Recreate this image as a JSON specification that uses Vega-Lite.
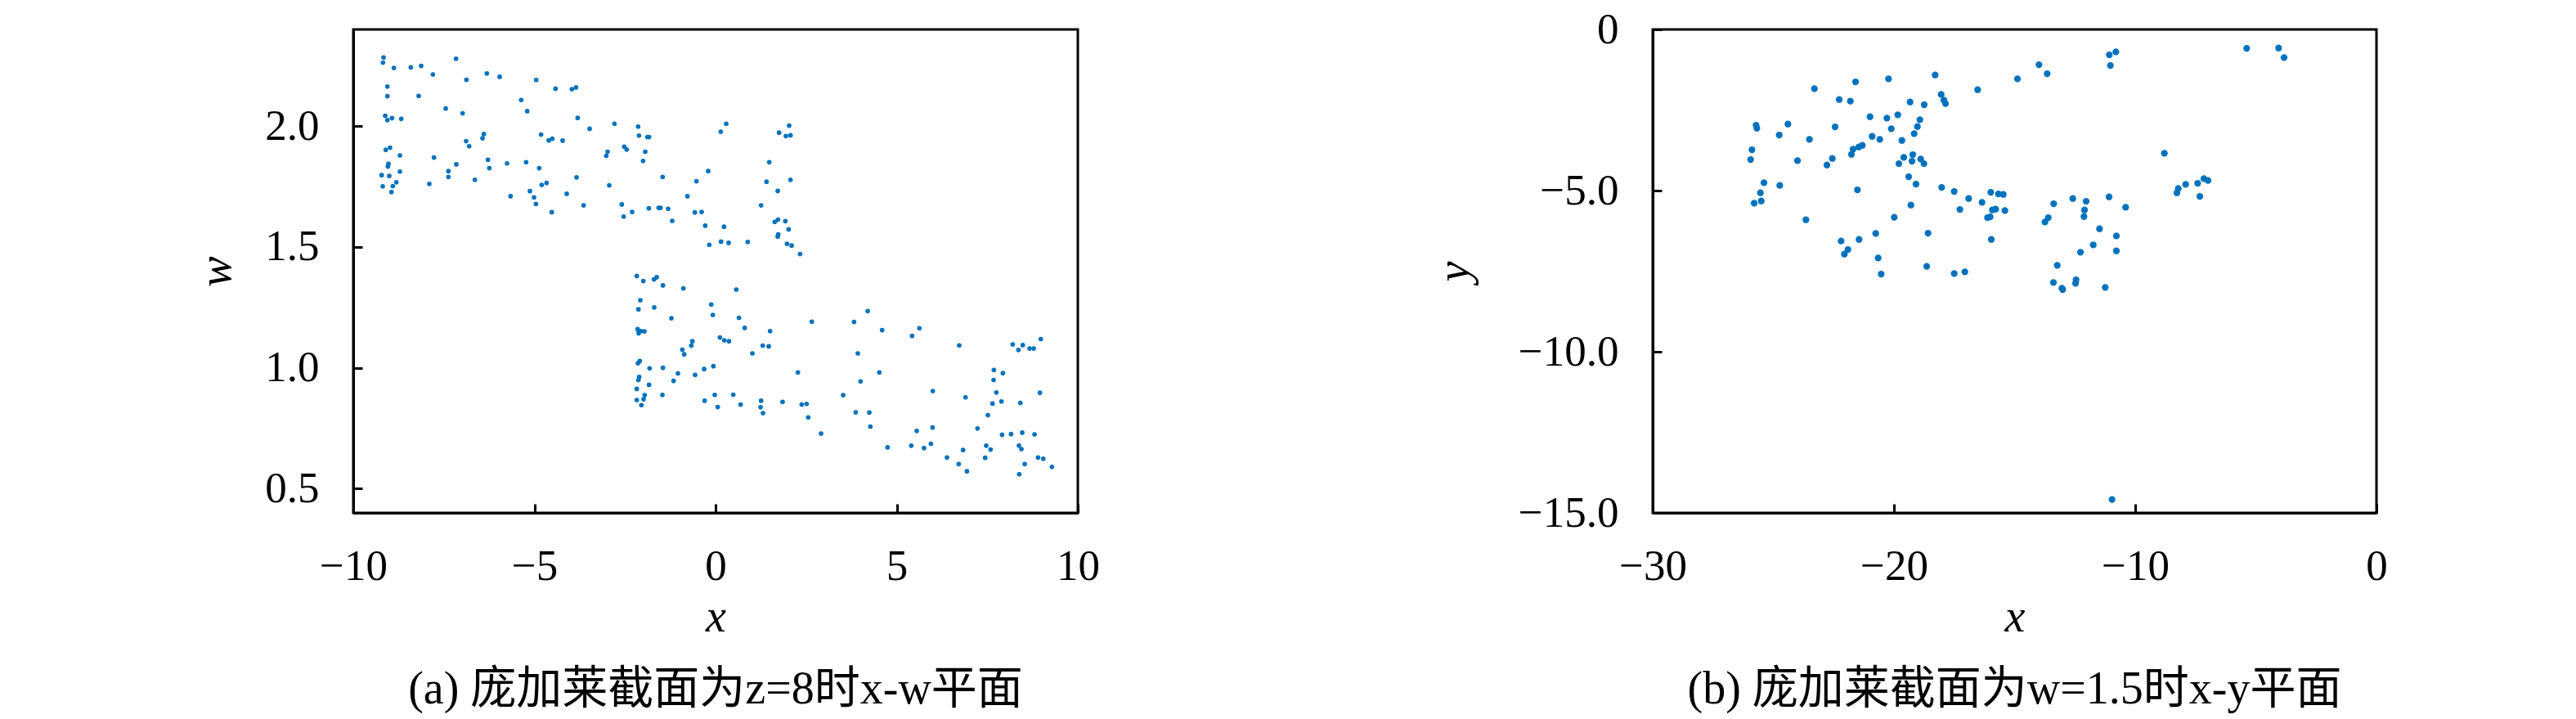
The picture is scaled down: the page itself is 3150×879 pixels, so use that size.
{
  "$schema": "https://vega.github.io/schema/vega-lite/v6.json",
  "background": "white",
  "padding": {"left": 235, "top": 8, "right": 0, "bottom": 0},
  "bounds": "flush",
  "spacing": 703,
  "config": {
    "view": {"stroke": "black", "strokeWidth": 3},
    "axis": {
      "domainColor": "black", "domainWidth": 3,
      "tickColor": "black", "tickWidth": 3, "tickSize": -11,
      "grid": false,
      "labelFont": "Liberation Serif", "labelFontSize": 53, "labelColor": "black",
      "labelFlush": false, "labelOverlap": false,
      "titleFont": "Liberation Serif", "titleFontSize": 56, "titleFontStyle": "italic",
      "titleFontWeight": "normal", "titleColor": "black"
    },
    "axisX": {"labelPadding": 50, "titlePadding": 8},
    "axisY": {"labelPadding": 53},
    "title": {"font": "Liberation Serif, Noto Sans CJK SC", "fontSize": 56, "fontWeight": "normal", "color": "black"}
  },
  "datasets": {
    "xw": [
      {"x":-9.165,"w":2.284},{"x":-9.180,"w":2.263},{"x":-8.879,"w":2.241},{"x":-8.412,"w":2.243},{"x":-8.126,"w":2.249},
      {"x":-7.803,"w":2.214},{"x":-7.163,"w":2.279},{"x":-6.877,"w":2.192},{"x":-6.313,"w":2.218},{"x":-5.959,"w":2.204},
      {"x":-4.951,"w":2.191},{"x":-4.417,"w":2.155},{"x":-3.965,"w":2.153},{"x":-3.852,"w":2.160},{"x":-9.059,"w":2.164},
      {"x":-9.059,"w":2.124},{"x":-8.194,"w":2.125},{"x":-7.449,"w":2.073},{"x":-6.983,"w":2.053},{"x":-5.365,"w":2.108},
      {"x":-5.199,"w":2.062},{"x":-3.807,"w":2.034},{"x":-9.119,"w":2.043},{"x":-9.059,"w":2.025},{"x":-8.931,"w":2.033},
      {"x":-8.676,"w":2.030},{"x":-3.476,"w":1.989},{"x":-2.791,"w":2.010},{"x":-2.137,"w":1.998},{"x":-2.114,"w":1.961},
      {"x":-1.881,"w":1.955},{"x":-1.836,"w":1.955},{"x":0.143,"w":1.977},{"x":-9.104,"w":1.902},{"x":-8.984,"w":1.911},
      {"x":-8.713,"w":1.879},{"x":-7.773,"w":1.870},{"x":-6.885,"w":1.938},{"x":-6.802,"w":1.917},{"x":-6.433,"w":1.950},
      {"x":-6.396,"w":1.967},{"x":-6.283,"w":1.861},{"x":-6.245,"w":1.826},{"x":-7.156,"w":1.842},{"x":-7.374,"w":1.814},
      {"x":-7.374,"w":1.790},{"x":-7.901,"w":1.761},{"x":-9.029,"w":1.844},{"x":-9.044,"w":1.833},{"x":-9.217,"w":1.797},
      {"x":-9.007,"w":1.794},{"x":-8.713,"w":1.812},{"x":-9.187,"w":1.751},{"x":-8.909,"w":1.752},{"x":-8.811,"w":1.768},
      {"x":-8.946,"w":1.727},{"x":-6.644,"w":1.778},{"x":-5.756,"w":1.846},{"x":-5.229,"w":1.851},{"x":-4.868,"w":1.826},
      {"x":-4.816,"w":1.965},{"x":-4.605,"w":1.941},{"x":-4.507,"w":1.948},{"x":-4.221,"w":1.940},{"x":-5.658,"w":1.710},
      {"x":-5.124,"w":1.731},{"x":-5.011,"w":1.705},{"x":-4.958,"w":1.678},{"x":-4.800,"w":1.757},{"x":-4.665,"w":1.765},
      {"x":-4.522,"w":1.644},{"x":-4.108,"w":1.720},{"x":-3.837,"w":1.788},{"x":-3.642,"w":1.672},{"x":-3.017,"w":1.877},
      {"x":-2.980,"w":1.894},{"x":-2.934,"w":1.755},{"x":-2.521,"w":1.915},{"x":-2.453,"w":1.903},{"x":-1.941,"w":1.894},
      {"x":-2.001,"w":1.856},{"x":-2.588,"w":1.676},{"x":-2.536,"w":1.626},{"x":-2.302,"w":1.645},{"x":-1.843,"w":1.660},
      {"x":-1.572,"w":1.662},{"x":-1.520,"w":1.662},{"x":-1.309,"w":1.658},{"x":-1.196,"w":1.608},{"x":-1.460,"w":1.790},
      {"x":-0.775,"w":1.710},{"x":-0.572,"w":1.643},{"x":-0.384,"w":1.645},{"x":-0.527,"w":1.772},{"x":-0.203,"w":1.814},
      {"x":-0.286,"w":1.588},{"x":-0.173,"w":1.509},{"x":0.151,"w":1.522},{"x":0.233,"w":1.584},
      {"x":0.294,"w":2.010},{"x":1.753,"w":1.973},{"x":2.032,"w":2.002},{"x":1.941,"w":1.959},{"x":2.069,"w":1.962},
      {"x":1.482,"w":1.851},{"x":1.407,"w":1.770},{"x":2.069,"w":1.778},{"x":1.716,"w":1.732},{"x":1.257,"w":1.672},
      {"x":1.633,"w":1.604},{"x":1.723,"w":1.613},{"x":1.926,"w":1.607},{"x":2.017,"w":1.573},{"x":1.731,"w":1.552},
      {"x":1.716,"w":1.543},{"x":0.361,"w":1.517},{"x":0.888,"w":1.521},{"x":1.972,"w":1.513},{"x":2.100,"w":1.506},
      {"x":2.333,"w":1.471},
      {"x":-2.175,"w":1.380},{"x":-1.994,"w":1.359},{"x":-1.700,"w":1.366},{"x":-1.625,"w":1.375},{"x":-1.452,"w":1.341},
      {"x":-0.888,"w":1.329},{"x":-2.077,"w":1.280},{"x":-2.129,"w":1.242},{"x":-1.693,"w":1.250},{"x":-1.219,"w":1.205},
      {"x":-0.120,"w":1.262},{"x":-0.075,"w":1.219},{"x":-2.152,"w":1.160},{"x":-2.122,"w":1.143},{"x":-2.062,"w":1.152},
      {"x":-1.964,"w":1.151},{"x":0.121,"w":1.126},{"x":-0.640,"w":1.110},{"x":-0.670,"w":1.092},{"x":-0.918,"w":1.075},
      {"x":-0.865,"w":1.056},{"x":-2.144,"w":1.019},{"x":-2.092,"w":1.028},{"x":-1.821,"w":0.998},{"x":-1.452,"w":1.000},
      {"x":-1.038,"w":0.977},{"x":-1.159,"w":0.946},{"x":-0.564,"w":0.971},{"x":-0.316,"w":0.995},{"x":-0.060,"w":1.007},
      {"x":-2.107,"w":0.962},{"x":-2.129,"w":0.950},{"x":-1.836,"w":0.930},{"x":-2.175,"w":0.913},{"x":-1.956,"w":0.887},
      {"x":-1.986,"w":0.870},{"x":-2.175,"w":0.867},{"x":-2.047,"w":0.846},{"x":-1.467,"w":0.888},{"x":-0.301,"w":0.864},
      {"x":-0.022,"w":0.888},{"x":0.060,"w":0.838},
      {"x":0.572,"w":1.324},{"x":0.647,"w":1.207},{"x":0.805,"w":1.165},{"x":0.241,"w":1.114},{"x":0.369,"w":1.110},
      {"x":1.016,"w":1.060},{"x":1.302,"w":1.092},{"x":1.467,"w":1.089},{"x":1.505,"w":1.152},{"x":2.656,"w":1.191},
      {"x":2.273,"w":0.981},{"x":0.489,"w":0.889},{"x":0.692,"w":0.848},{"x":1.257,"w":0.864},{"x":1.242,"w":0.837},
      {"x":1.309,"w":0.813},{"x":1.851,"w":0.859},{"x":2.378,"w":0.848},{"x":2.513,"w":0.851},{"x":2.558,"w":0.795},
      {"x":2.912,"w":0.728},{"x":3.522,"w":0.887},{"x":3.823,"w":1.190},{"x":4.199,"w":1.235},{"x":4.598,"w":1.156},
      {"x":3.928,"w":1.060},{"x":4.003,"w":0.944},{"x":4.522,"w":0.981},{"x":3.868,"w":0.816},{"x":4.244,"w":0.815},
      {"x":4.274,"w":0.757},{"x":4.748,"w":0.671},{"x":5.425,"w":1.132},{"x":5.628,"w":1.164},{"x":6.727,"w":1.093},
      {"x":5.997,"w":0.904},{"x":6.900,"w":0.878},{"x":5.553,"w":0.739},{"x":5.990,"w":0.753},{"x":5.403,"w":0.678},
      {"x":5.756,"w":0.668},{"x":5.945,"w":0.686},{"x":6.388,"w":0.629},{"x":6.712,"w":0.602},{"x":6.832,"w":0.660},
      {"x":6.938,"w":0.572},{"x":7.231,"w":0.749},{"x":7.442,"w":0.628},{"x":7.472,"w":0.678},{"x":7.592,"w":0.662},
      {"x":7.517,"w":0.804},{"x":7.645,"w":0.852},{"x":7.750,"w":0.898},{"x":7.675,"w":0.950},{"x":7.683,"w":0.991},
      {"x":7.931,"w":0.978},{"x":7.893,"w":0.861},{"x":7.908,"w":0.723},{"x":8.157,"w":0.726},{"x":8.413,"w":0.855},
      {"x":8.465,"w":0.732},{"x":8.375,"w":0.678},{"x":8.443,"w":0.664},{"x":8.533,"w":0.602},{"x":8.382,"w":0.560},
      {"x":8.804,"w":0.725},{"x":8.902,"w":0.629},{"x":9.045,"w":0.624},{"x":9.285,"w":0.590},{"x":8.954,"w":0.897},
      {"x":8.202,"w":1.097},{"x":8.360,"w":1.074},{"x":8.480,"w":1.094},{"x":8.668,"w":1.080},{"x":8.781,"w":1.080},
      {"x":8.977,"w":1.119}
    ],
    "xy": [
      {"x":-23.299,"y":-1.837},{"x":-21.593,"y":-1.626},{"x":-20.226,"y":-1.533},{"x":-18.294,"y":-1.414},{"x":-16.531,"y":-1.871},
      {"x":-22.271,"y":-2.176},{"x":-21.808,"y":-2.226},{"x":-19.333,"y":-2.252},{"x":-18.746,"y":-2.336},{"x":-18.045,"y":-2.015},
      {"x":-17.932,"y":-2.192},{"x":-17.864,"y":-2.302},{"x":-20.994,"y":-2.709},{"x":-20.294,"y":-2.751},{"x":-19.842,"y":-2.649},
      {"x":-18.926,"y":-2.802},{"x":-19.028,"y":-3.013},{"x":-19.164,"y":-3.233},{"x":-20.113,"y":-3.081},{"x":-19.672,"y":-3.445},
      {"x":-20.904,"y":-3.318},{"x":-20.588,"y":-3.411},{"x":-22.441,"y":-3.022},{"x":-24.395,"y":-2.937},{"x":-25.717,"y":-2.971},
      {"x":-25.684,"y":-3.064},{"x":-24.757,"y":-3.275},{"x":-23.503,"y":-3.411},{"x":-25.887,"y":-3.732},{"x":-25.943,"y":-4.037},
      {"x":-24.000,"y":-4.071},{"x":-22.554,"y":-4.003},{"x":-22.779,"y":-4.206},{"x":-21.763,"y":-3.876},{"x":-21.695,"y":-3.715},
      {"x":-21.458,"y":-3.648},{"x":-21.311,"y":-3.597},{"x":-19.797,"y":-4.164},{"x":-19.593,"y":-3.969},{"x":-19.254,"y":-4.088},
      {"x":-19.220,"y":-3.884},{"x":-18.893,"y":-4.020},{"x":-18.757,"y":-4.164},{"x":-19.390,"y":-4.570},{"x":-19.085,"y":-4.798},
      {"x":-25.390,"y":-4.756},{"x":-24.734,"y":-4.840},{"x":-25.537,"y":-5.069},{"x":-25.797,"y":-5.390},{"x":-25.503,"y":-5.323},
      {"x":-21.514,"y":-4.976},{"x":-23.650,"y":-5.907},{"x":-19.299,"y":-5.450},{"x":-19.989,"y":-5.830},{"x":-18.022,"y":-4.900},
      {"x":-17.503,"y":-5.027},{"x":-16.904,"y":-5.247},{"x":-17.266,"y":-5.585},{"x":-16.350,"y":-5.365},{"x":-15.988,"y":-5.052},
      {"x":-15.672,"y":-5.103},{"x":-15.469,"y":-5.120},{"x":-15.921,"y":-5.602},{"x":-15.785,"y":-5.577},{"x":-15.401,"y":-5.619},
      {"x":-16.124,"y":-5.839},{"x":-16.011,"y":-5.814},{"x":-15.966,"y":-6.516},{"x":-20.757,"y":-6.329},{"x":-18.588,"y":-6.321},
      {"x":-22.192,"y":-6.566},{"x":-21.446,"y":-6.516},{"x":-21.909,"y":-6.829},{"x":-22.056,"y":-6.973},{"x":-20.655,"y":-7.091},
      {"x":-18.644,"y":-7.353},{"x":-20.531,"y":-7.590},{"x":-17.503,"y":-7.573},{"x":-17.062,"y":-7.522},
      {"x":-5.379,"y":-0.585},{"x":-4.056,"y":-0.577},{"x":-3.831,"y":-0.873},{"x":-10.802,"y":-0.695},{"x":-11.073,"y":-0.788},
      {"x":-11.028,"y":-1.118},{"x":-13.989,"y":-1.093},{"x":-13.650,"y":-1.372},{"x":-14.881,"y":-1.533},{"x":-8.791,"y":-3.842},
      {"x":-7.910,"y":-4.807},{"x":-8.215,"y":-4.934},{"x":-8.271,"y":-5.069},{"x":-7.412,"y":-4.773},{"x":-7.153,"y":-4.629},
      {"x":-6.983,"y":-4.688},{"x":-7.322,"y":-5.179},{"x":-13.379,"y":-5.407},{"x":-12.588,"y":-5.247},{"x":-12.034,"y":-5.331},
      {"x":-12.102,"y":-5.602},{"x":-12.124,"y":-5.805},{"x":-11.085,"y":-5.196},{"x":-10.396,"y":-5.517},{"x":-13.605,"y":-5.839},
      {"x":-13.740,"y":-5.974},{"x":-11.480,"y":-6.186},{"x":-10.780,"y":-6.406},{"x":-11.740,"y":-6.685},{"x":-12.271,"y":-6.913},
      {"x":-10.780,"y":-6.871},{"x":-13.232,"y":-7.319},
      {"x":-13.390,"y":-7.852},{"x":-13.040,"y":-8.030},{"x":-13.006,"y":-8.072},{"x":-12.452,"y":-7.767},{"x":-12.475,"y":-7.877},
      {"x":-11.243,"y":-8.004},{"x":-10.961,"y":-14.586}
    ]
  },
  "hconcat": [
    {
      "width": 886, "height": 591,
      "data": {"name": "xw"},
      "title": {"text": "(a) 庞加莱截面为z=8时x-w平面", "orient": "bottom", "anchor": "middle", "frame": "group", "offset": 34},
      "mark": {"type": "point", "filled": true, "size": 32, "color": "#0072BD", "opacity": 1},
      "encoding": {
        "x": {"field": "x", "type": "quantitative", "scale": {"domain": [-10, 10], "nice": false, "zero": false},
              "axis": {"title": "x", "values": [-10, -5, 0, 5, 10], "format": "d"}},
        "y": {"field": "w", "type": "quantitative", "scale": {"domain": [0.4, 2.4], "nice": false, "zero": false},
              "axis": {"title": "w", "values": [0.5, 1.0, 1.5, 2.0], "format": ".1f", "titlePadding": 30}}
      }
    },
    {
      "width": 885, "height": 591,
      "data": {"name": "xy"},
      "title": {"text": "(b) 庞加莱截面为w=1.5时x-y平面", "orient": "bottom", "anchor": "middle", "frame": "group", "offset": 34},
      "mark": {"type": "point", "filled": true, "size": 68, "color": "#0072BD", "opacity": 1},
      "encoding": {
        "x": {"field": "x", "type": "quantitative", "scale": {"domain": [-30, 0], "nice": false, "zero": false},
              "axis": {"title": "x", "values": [-30, -20, -10, 0], "format": "d"}},
        "y": {"field": "y", "type": "quantitative", "scale": {"domain": [-15, 0], "nice": false, "zero": false},
              "axis": {"title": "y", "values": [0, -5, -10, -15], "labelExpr": "datum.value == 0 ? '0' : format(datum.value, '.1f')", "titlePadding": 49}}
      }
    }
  ]
}
